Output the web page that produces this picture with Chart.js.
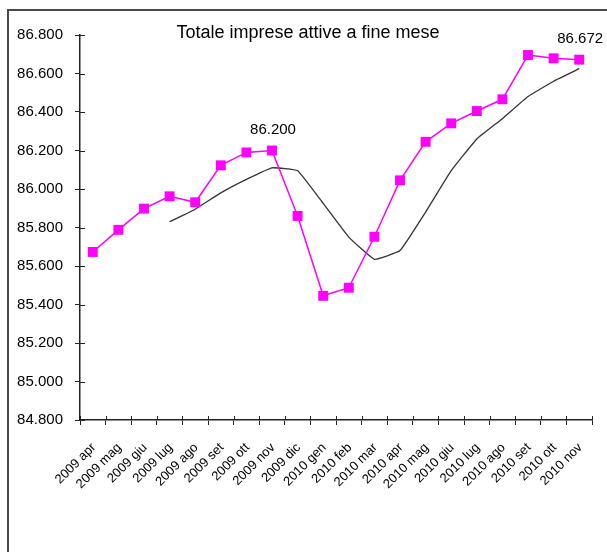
<!DOCTYPE html>
<html>
<head>
<meta charset="utf-8">
<script src="https://cdn.jsdelivr.net/npm/chart.js@4"></script>
<style>
  html, body { margin: 0; padding: 0; background: #fff; }
  #wrap { position: relative; width: 607px; height: 552px; overflow: hidden; }
  #frame { position: absolute; left: 7px; top: 9px; width: 640px; height: 600px; border: 2px solid #4a4a4a; box-sizing: border-box; }
  canvas { position: absolute; left: 0; top: 0; }
</style>
</head>
<body>
<div id="wrap">
  <div id="frame"></div>
  <canvas id="chart" width="607" height="552"></canvas>
</div>
<script>
const months = ['2009 apr', '2009 mag', '2009 giu', '2009 lug', '2009 ago', '2009 set', '2009 ott', '2009 nov', '2009 dic',
    '2010 gen', '2010 feb', '2010 mar', '2010 apr', '2010 mag', '2010 giu', '2010 lug', '2010 ago', '2010 set', '2010 ott', '2010 nov'];
const imprese = [85673, 85788, 85898, 85962, 85931, 86123, 86190, 86200, 85860,
    85445, 85487, 85752, 86045, 86245, 86341, 86405, 86466, 86696, 86679, 86672];
const mediaMobile = [null, null, null, 85830, 85895, 85980, 86050, 86110, 86095,
    85925, 85750, 85635, 85680, 85880, 86095, 86260, 86365, 86480, 86560, 86625];
const labelled = [7, 19];

const fmt = v => Math.floor(v / 1000) + '.' + String(Math.round(v % 1000)).padStart(3, '0');
const FONT = '"Liberation Sans", Arial, sans-serif';

// title, value labels and the inner half of the axis ticks
const extras = {
    id: 'extras',
    afterDraw(chart) {
        const ctx = chart.ctx;
        const area = chart.chartArea;
        ctx.save();
        ctx.fillStyle = '#000';
        ctx.textAlign = 'center';
        ctx.textBaseline = 'middle';
        ctx.font = '18px ' + FONT;
        ctx.fillText('Totale imprese attive a fine mese', 308, 33);

        ctx.font = '15px ' + FONT;
        const meta = chart.getDatasetMeta(0);
        labelled.forEach(i => {
            const p = meta.data[i];
            ctx.fillText(fmt(imprese[i]), p.x + 1, p.y - 21);
        });

        const xs = chart.scales.x;
        ctx.strokeStyle = '#222';
        ctx.lineWidth = 1;
        for (let i = 0; i <= months.length; i++) {
            const x = Math.round(xs.left + (xs.right - xs.left) * i / months.length) + 0.5;
            ctx.beginPath();
            ctx.moveTo(x, area.bottom - 4);
            ctx.lineTo(x, area.bottom);
            ctx.stroke();
        }
        const ys = chart.scales.y;
        ys.ticks.forEach(t => {
            const y = Math.round(ys.getPixelForValue(t.value)) + 0.5;
            ctx.beginPath();
            ctx.moveTo(area.left, y);
            ctx.lineTo(area.left + 5, y);
            ctx.stroke();
        });
        ctx.restore();
    }
};

const ctx = document.getElementById('chart').getContext('2d');
const chart = new Chart(ctx, {
    type: 'line',
    data: {
        labels: months,
        datasets: [{
            label: 'Imprese attive',
            data: imprese,
            borderColor: '#ff00ff',
            backgroundColor: '#ff00ff',
            borderWidth: 1.5,
            pointStyle: 'rect',
            pointRadius: 7,
            pointBorderWidth: 0,
            tension: 0
        }, {
            label: 'Media mobile',
            data: mediaMobile,
            borderColor: '#333333',
            borderWidth: 1.3,
            pointRadius: 0,
            tension: 0.1,
            spanGaps: false
        }]
    },
    options: {
        responsive: false,
        animation: false,
        layout: { padding: { left: 0, top: 35, right: 15, bottom: 0 } },
        plugins: {
            legend: { display: false },
            tooltip: { enabled: false }
        },
        scales: {
            x: {
                offset: true,
                grid: { display: true, drawOnChartArea: false, offset: true, color: '#222', tickLength: 5 },
                border: { color: '#222', width: 1.5 },
                ticks: {
                    color: '#000',
                    font: { family: FONT, size: 13 },
                    minRotation: 45,
                    maxRotation: 45,
                    autoSkip: false,
                    padding: 15,
                    labelOffset: 1
                },
                afterFit(scale) { scale.height = 132; }
            },
            y: {
                min: 84800,
                max: 86800,
                grid: { display: true, drawOnChartArea: false, color: '#222', tickLength: 5 },
                border: { color: '#222', width: 1.5 },
                ticks: {
                    stepSize: 200,
                    color: '#000',
                    padding: 12,
                    font: { family: FONT, size: 15 },
                    callback: v => fmt(v)
                },
                afterFit(scale) { scale.width = 80; }
            }
        }
    },
    plugins: [extras]
});
</script>
</body>
</html>
